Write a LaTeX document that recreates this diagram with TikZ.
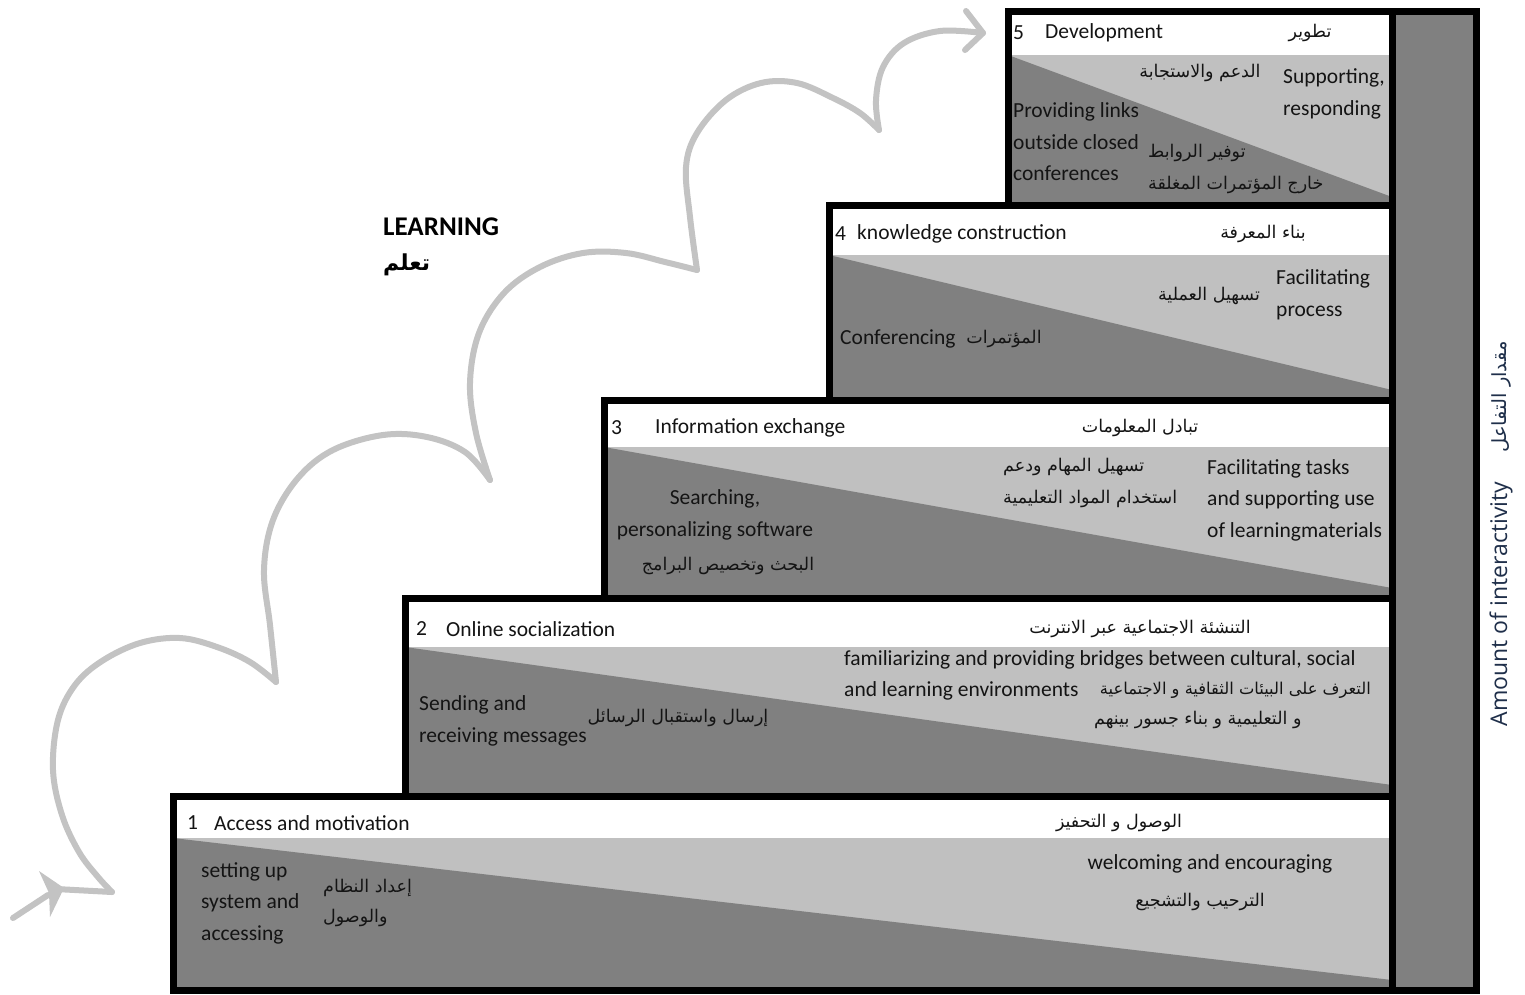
\documentclass[tikz,border=0pt]{standalone}
\usepackage{fontspec}
\setmainfont{Carlito}
\newfontfamily\arabicfont[Script=Arabic]{DejaVu Sans}
\newfontfamily\vertfont{Open Sans}
\TeXXeTstate=1
\definecolor{darkg}{HTML}{808080}
\definecolor{lightg}{HTML}{C0C0C0}
\definecolor{arrowg}{HTML}{C3C3C3}
\definecolor{navy}{HTML}{1F2F4A}
\newcommand\latsz{\fontsize{21.5}{31.5}\selectfont}
\newcommand\arsz{\arabicfont\fontsize{17.5}{30}\selectfont}
\begin{document}
\begin{tikzpicture}[x=1pt,y=-1pt,
  lat/.style={inner sep=0pt, font=\latsz, text=black!92},
  ar/.style={inner sep=0pt, font=\arsz, text=black!92},
  border/.style={line width=7pt, draw=black},
  curl/.style={draw=arrowg, line width=6pt, line cap=round, line join=round}]
\useasboundingbox (0,0) rectangle (1525,994);
\fill[white] (0,0) rectangle (1525,994);

% steps: L/T/H/B/D
\foreach \L/\T/\H/\B/\D in {173/796/838/990/980, 405/598/647/796/785, 604/400/447/598/588, 829/205/255/400/390, 1008/11/55/205/197}{
  \fill[white] (\L,\T) rectangle (1392,\H);
  \fill[lightg] (\L,\H) rectangle (1392,\B);
  \fill[darkg] (\L,\H) -- (1392,\D) -- (1392,\B) -- (\L,\B) -- cycle;
}
\foreach \L/\T/\B in {173/796/990, 405/598/796, 604/400/598, 829/205/400, 1008/11/205}{
  \draw[border] (\L,\T) rectangle (1392,\B);
}
\fill[darkg] (1392,11) rectangle (1476,990);
\draw[border] (1392,11) rectangle (1476,990);

% curly arrow
\coordinate (t0) at (13,918);
\coordinate (t1) at (48,895);
\coordinate (h0) at (56,889);
\coordinate (c1) at (112,892);
\coordinate (c2) at (276,682);
\coordinate (c3) at (490,480);
\coordinate (c4) at (697,270);
\coordinate (c5) at (879,130);
\coordinate (tip) at (983,33);
\coordinate (b1) at (966,11);
\coordinate (b2) at (965,50);
\draw[curl] (t0) -- (t1);
\fill[arrowg] (39,871) -- (64,888) -- (50,917) -- (49,893) -- cycle;
\draw[curl] (h0) -- (c1);
\draw[curl] plot[smooth, tension=0.6] coordinates {(c1) (98,877) (79,852) (62,815) (53,770) (58,720) (75,685) (102,661) (140,643) (180,638) (217,647) (250,662) (c2)};
\draw[curl] plot[smooth, tension=0.6] coordinates {(c2) (270,625) (264,570) (273,520) (298,478) (333,450) (383,435) (427,437) (465,452) (c3)};
\draw[curl] plot[smooth, tension=0.6] coordinates {(c3) (476,433) (470,383) (479,333) (504,293) (540,267) (583,253) (626,253) (665,262) (c4)};
\draw[curl] plot[smooth, tension=0.6] coordinates {(c4) (690,217) (686,167) (697,133) (726,100) (761,83) (797,83) (833,98) (860,113) (c5)};
\draw[curl] plot[smooth, tension=0.6] coordinates {(c5) (876,100) (883,67) (904,43) (940,31) (tip)};
\draw[curl] (b1) -- (tip) -- (b2);

% LEARNING
\node[anchor=west, inner sep=0pt, font=\fontsize{27}{30}\selectfont\bfseries] (learn) at (383,227) {LEARNING};
\node[anchor=west, inner sep=0pt, font=\arabicfont\bfseries\fontsize{22}{26}\selectfont] (learnar) at (383,265) {\beginR تعلم\endR};

% step 5
\node[lat, anchor=west] (n5) at (1013,33) {5};
\node[lat, anchor=west] (t5) at (1045,33) {Development};
\node[ar] (a5) at (1310,33) {\beginR تطوير\endR};
\node[ar] (a5b) at (1200,73) {\beginR الدعم والاستجابة\endR};
\node[lat, anchor=west, align=left] (s5) at (1283,94) {Supporting,\\responding};
\node[lat, anchor=west, align=left] (p5) at (1013,142) {Providing links\\outside closed\\conferences};
\node[ar, anchor=west] (a5c) at (1148,153) {\beginR توفير الروابط\endR};
\node[ar, anchor=west] (a5d) at (1148,185) {\beginR خارج المؤتمرات المغلقة\endR};

% step 4
\node[lat, anchor=west] (n4) at (835,234) {4};
\node[lat, anchor=west] (t4) at (857,234) {knowledge construction};
\node[ar] (a4) at (1263,234) {\beginR بناء المعرفة\endR};
\node[ar] (a4b) at (1209,296) {\beginR تسهيل العملية\endR};
\node[lat, anchor=west, align=left] (f4) at (1276,295) {Facilitating\\process};
\node[lat, anchor=west] (c4t) at (840,339) {Conferencing};
\node[ar] (a4c) at (1004,339) {\beginR المؤتمرات\endR};

% step 3
\node[lat, anchor=west] (n3) at (611,428) {3};
\node[lat, anchor=west] (t3) at (655,428) {Information exchange};
\node[ar] (a3) at (1140,428) {\beginR تبادل المعلومات\endR};
\node[ar, anchor=west] (a3b) at (1003,467) {\beginR تسهيل المهام ودعم\endR};
\node[ar, anchor=west] (a3c) at (1003,499) {\beginR استخدام المواد التعليمية\endR};
\node[lat, anchor=west, align=left] (f3) at (1207,500) {Facilitating tasks\\and supporting use\\of learningmaterials};
\node[lat, align=center] (s3) at (715,515) {Searching,\\personalizing software};
\node[ar] (a3d) at (728,566) {\beginR البحث وتخصيص البرامج\endR};

% step 2
\node[lat, anchor=west] (n2) at (416,629) {2};
\node[lat, anchor=west] (t2) at (446,629) {Online socialization};
\node[ar] (a2) at (1140,629) {\beginR التنشئة الاجتماعية عبر الانترنت\endR};
\node[lat, anchor=west] (f2a) at (844,660) {familiarizing and providing bridges between cultural, social};
\node[lat, anchor=west] (f2b) at (844,691) {and learning environments};
\node[ar, anchor=east, font=\arabicfont\fontsize{16.3}{30}\selectfont] (a2b) at (1371,690) {\beginR التعرف على البيئات الثقافية و الاجتماعية\endR};
\node[ar, anchor=west] (a2c) at (1094,720) {\beginR و التعليمية و بناء جسور بينهم\endR};
\node[lat, anchor=west, align=left] (s2) at (419,721) {Sending and\\receiving messages};
\node[ar] (a2d) at (678,718) {\beginR إرسال واستقبال الرسائل\endR};

% step 1
\node[lat, anchor=west] (n1) at (187,823) {1};
\node[lat, anchor=west] (t1t) at (214,823) {Access and motivation};
\node[ar] (a1) at (1119,823) {\beginR الوصول و التحفيز\endR};
\node[lat, anchor=west, align=left] (s1) at (201,903) {setting up\\system and\\accessing};
\node[ar, anchor=west] (a1b) at (323,888) {\beginR إعداد النظام\endR};
\node[ar, anchor=west] (a1c) at (323,918) {\beginR والوصول\endR};
\node[lat] (w1) at (1210,864) {welcoming and encouraging};
\node[ar] (a1d) at (1200,902) {\beginR الترحيب والتشجيع\endR};

% vertical label
\node[rotate=90, inner sep=0pt, text=navy, font=\vertfont\fontsize{23}{26}\selectfont] (amt) at (1501,604) {Amount of interactivity};
\node[rotate=90, inner sep=0pt, text=navy, font=\arabicfont\fontsize{19.5}{22}\selectfont] (amtar) at (1501,397) {\beginR مقدار التفاعل\endR};
\end{tikzpicture}
\end{document}
